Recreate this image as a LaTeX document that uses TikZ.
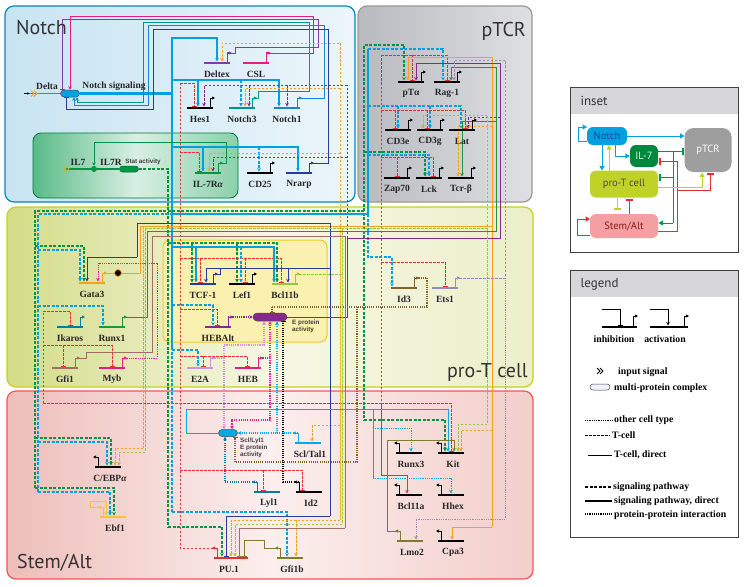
\documentclass[tikz,border=0pt]{standalone}
\usepackage{fontspec}
\setmainfont{Liberation Serif}
\newfontfamily\titlefont{PT Sans}
\newfontfamily\labelsans{Liberation Sans}
\usetikzlibrary{arrows.meta,calc,shapes.misc}
\definecolor{nBlue}{RGB}{0,160,225}
\definecolor{ilGreen}{RGB}{0,150,70}
\definecolor{puRed}{RGB}{230,45,50}
\definecolor{gataOrange}{RGB}{245,160,30}
\definecolor{tcfNavy}{RGB}{40,60,160}
\definecolor{runxGreen}{RGB}{30,150,60}
\definecolor{bclGreen}{RGB}{150,200,60}
\definecolor{etsGrey}{RGB}{150,140,180}
\definecolor{ePurple}{RGB}{135,40,140}
\definecolor{hebMagenta}{RGB}{225,30,130}
\definecolor{eLilac}{RGB}{205,150,210}
\definecolor{sclCyan}{RGB}{0,170,230}
\definecolor{lylTeal}{RGB}{0,125,160}
\definecolor{idOlive}{RGB}{125,125,45}
\definecolor{idBrown}{RGB}{130,100,40}
\definecolor{ebfYellow}{RGB}{245,200,40}
\definecolor{gfiBrown}{RGB}{160,110,100}
\definecolor{deltexPurple}{RGB}{130,60,170}
\definecolor{notchOneBlue}{RGB}{30,130,210}
\definecolor{notchTeal}{RGB}{0,150,140}
\definecolor{proGreen}{RGB}{190,210,40}
\definecolor{notchFill}{RGB}{200,228,242}
\definecolor{ptcrFill}{RGB}{185,186,192}
\definecolor{proFill}{RGB}{212,220,135}
\definecolor{stemFill}{RGB}{238,190,185}
\definecolor{hebFill}{RGB}{250,240,175}
\definecolor{headGrey}{RGB}{215,215,217}
\pgfdeclarelayer{boxes}
\pgfdeclarelayer{wires}
\pgfsetlayers{boxes,wires,main}
\tikzset{
  regionBox/.style={rounded corners=9pt, line width=1.2pt},
  regionTitle/.style={font=\titlefont\fontsize{20}{22}\selectfont, text=black!80, inner sep=0pt},
  geneBar/.style={line width=1.4pt},
  genePromoter/.style={line width=1pt, -{Triangle[length=3pt,width=3pt]}},
  geneLabel/.style={font=\bfseries\fontsize{9.5}{10}\selectfont, text=black!85, inner sep=0pt},
  linkDirect/.style={line width=0.6pt},
  linkTcell/.style={line width=0.6pt, dash pattern=on 2.5pt off 1.5pt},
  linkOther/.style={line width=0.6pt, dash pattern=on 0.8pt off 1pt},
  linkSig/.style={line width=2.2pt, dash pattern=on 3pt off 1.5pt},
  linkSigDirect/.style={line width=2.2pt},
  linkPpi/.style={line width=2pt, dash pattern=on 1.1pt off 1.1pt},
  actTip/.style={-{Stealth[length=3.5pt,width=3.5pt]}},
  inhTip/.style={-{Bar[width=5pt,line width=1pt]}},
  complexNode/.style={rounded rectangle, draw=black!70, line width=0.5pt, inner sep=0pt},
  smallSans/.style={font=\labelsans\bfseries\fontsize{6.3}{7}\selectfont, text=black!75, align=left, inner sep=0pt},
  insetFrame/.style={draw=black!75, line width=1pt},
  insetNode/.style={rounded corners=6pt, inner sep=0pt, font=\titlefont\fontsize{10.5}{11}\selectfont},
  insetLink/.style={line width=1pt},
  insetAct/.style={-{Triangle[length=4.5pt,width=5pt]}},
  insetInh/.style={-{Bar[width=7pt,line width=2.2pt]}},
  legendText/.style={font=\bfseries\fontsize{9.8}{10}\selectfont, anchor=west, inner sep=0pt}
}
% gene with promoter on the right / on the left
\newcommand{\geneR}[5]{%
  \coordinate (#1) at (#2,#3);
  \coordinate (#1-o) at ($(#1)+(10,-10)$);
  \draw[geneBar,#4] ($(#1)+(-13,0)$) -- ($(#1)+(13,0)$);
  \draw[genePromoter,#4] ($(#1)+(10,0)$) -- (#1-o) -- ++(5,0);
  \node[geneLabel] (#1-l) at ($(#1)+(0,11.5)$) {#5};
}
\newcommand{\geneL}[5]{%
  \coordinate (#1) at (#2,#3);
  \coordinate (#1-o) at ($(#1)+(-10,-10)$);
  \draw[geneBar,#4] ($(#1)+(-13,0)$) -- ($(#1)+(13,0)$);
  \draw[genePromoter,#4] ($(#1)+(-10,0)$) -- (#1-o) -- ++(-5,0);
  \node[geneLabel] (#1-l) at ($(#1)+(2,11.5)$) {#5};
}
\newcommand{\inSignal}[3]{%
  \draw[#3,line width=0.9pt] (#1,#2-3) -- (#1+3,#2) -- (#1,#2+3);
  \draw[#3,line width=0.9pt] (#1+3,#2-3) -- (#1+6,#2) -- (#1+3,#2+3);
}

\begin{document}
\begin{tikzpicture}[x=1pt,y=-1pt]
\useasboundingbox (0,0) rectangle (746,586);

% regions
\begin{pgfonlayer}{boxes}
  \draw[regionBox, draw=nBlue!85!black, left color=notchFill, right color=notchFill!35] (5,6) rectangle (355,202);
  \draw[regionBox, draw=black!40, left color=ptcrFill, right color=ptcrFill!45] (358,6) rectangle (532,202);
  \draw[regionBox, draw=proGreen, left color=proFill, right color=proFill!45, middle color=proFill!22] (7,207) rectangle (533,387);
  \draw[regionBox, draw=puRed!80, left color=stemFill, right color=stemFill!75, middle color=stemFill!25] (7,391) rectangle (533,579);
  \draw[rounded corners=8pt, line width=0.8pt, draw=ilGreen!80!black, left color=ilGreen!65, right color=ilGreen!45, middle color=white!85!ilGreen] (33,133) rectangle (238,198);
  \draw[rounded corners=7pt, line width=1pt, draw=ebfYellow, fill=hebFill] (163,240) rectangle (327,342);
  \draw[insetFrame, fill=white] (570,87) rectangle (738,252);
  \fill[headGrey] (570.5,87.5) rectangle (737.5,114);
  \draw[insetFrame, fill=white] (570,270) rectangle (738,537);
  \fill[headGrey] (570.5,270.5) rectangle (737.5,297);
\end{pgfonlayer}
\node[regionTitle, anchor=base west] at (16,35) {Notch};
\node[regionTitle, anchor=base east] at (526,37) {pTCR};
\node[regionTitle, anchor=base east] at (528,377) {pro-T cell};
\node[regionTitle, anchor=base west] at (17,568) {Stem/Alt};

% Notch
\geneR{deltex}{217}{63}{deltexPurple}{Deltex}
\geneR{csl}{256}{63}{hebMagenta}{CSL}
\geneR{hes1}{200}{108}{black}{Hes1}
\geneR{notchiii}{242}{108}{notchTeal}{Notch3}
\geneR{notchi}{287}{108}{notchOneBlue}{Notch1}
\geneR{il7r}{208}{173}{ilGreen}{IL-7R\textit{α}}
\geneR{cd25}{260}{173}{black}{CD25}
\geneR{nrarp}{299}{173}{tcfNavy}{Nrarp}
% pTCR
\geneR{pta}{411}{82}{black}{pTα}
\geneR{rag1}{447}{82}{black}{Rag-1}
\geneR{cd3e}{398}{130}{black}{CD3e}
\geneR{cd3g}{430}{130}{black}{CD3g}
\geneR{lat}{462}{130}{black}{Lat}
\geneR{zap70}{397}{178}{black}{Zap70}
\geneR{lck}{429}{178}{black}{Lck}
\geneR{tcrb}{461}{178}{black}{Tcr-β}
% pro-T cell
\geneR{gata3}{92}{283}{gataOrange}{Gata3}
\geneR{ikaros}{70}{327}{lylTeal}{Ikaros}
\geneR{runx1}{112}{327}{runxGreen}{Runx1}
\geneR{gfi1}{65}{368}{gfiBrown}{Gfi1}
\geneR{myb}{112}{368}{hebMagenta}{Myb}
\geneR{tcf1}{203}{284}{tcfNavy}{TCF-1}
\geneR{lef1}{242}{284}{black}{Lef1}
\geneR{bcl11b}{285}{284}{bclGreen}{Bcl11b}
\geneR{hebalt}{218}{327}{ePurple}{HEBAlt}
\geneR{e2a}{200}{368}{eLilac}{E2A}
\geneR{heb}{248}{368}{hebMagenta}{HEB}
\geneR{id3}{404}{288}{idBrown}{Id3}
\geneR{ets1}{445}{288}{etsGrey}{Ets1}
% Stem/Alt
\geneL{cebpa}{108}{467}{black}{C/EBP\textit{α}}
\geneL{ebf1}{113}{517}{ebfYellow}{Ebf1}
\geneL{sclt}{308}{443}{sclCyan}{Scl/Tal1}
\geneL{lyl1}{267}{492}{lylTeal}{Lyl1}
\geneL{id2}{309}{492}{black}{Id2}
\geneL{pu1}{227}{558}{puRed}{PU.1}
\draw[geneBar,puRed] ($(pu1)+(13,0)$) -- ($(pu1)+(21,0)$);
\geneL{gfi1b}{290}{558}{idOlive}{Gfi1b}
\geneL{runx3}{409}{453}{black}{Runx3}
\geneL{kit}{451}{453}{black}{Kit}
\geneL{bcl11a}{409}{495}{black}{Bcl11a}
\geneL{hhex}{451}{495}{black}{Hhex}
\geneL{lmo2}{410}{541}{idOlive}{Lmo2}
\geneL{cpa3}{451}{541}{black}{Cpa3}

% complexes and inputs
\node[complexNode, fill=nBlue, minimum width=19pt, minimum height=7pt] (nsig) at (70,93.5) {};
\node[geneLabel] (delta-l) at (47,86) {Delta};
\node[geneLabel] (nsig-l) at (114,86) {Notch signaling};
\draw[line width=0.9pt, -{Stealth[length=3pt]}] (24,93.5) -- (30,93.5);
\inSignal{31}{93.5}{gataOrange}
\node[circle, fill=ilGreen, minimum size=6pt, inner sep=0pt] (il7dot) at (94,169) {};
\node[complexNode, fill=ilGreen, draw=ilGreen!70!black, minimum width=19pt, minimum height=6pt] (stat) at (129,169) {};
\node[geneLabel] (il7-l) at (78,162) {IL7};
\node[geneLabel] (il7rr-l) at (111,162) {IL7R};
\node[smallSans] (stat-l) at (143,162) {Stat activity};
\inSignal{63}{169}{gataOrange}
\node[circle, draw=gataOrange, fill=black, line width=0.8pt, minimum size=7pt, inner sep=0pt] (gprot) at (118,273) {};
\node[complexNode, fill=ePurple, minimum width=34pt, minimum height=8pt] (eprot) at (270,317) {};
\node[smallSans, anchor=west] (eprot-l) at (292,326) {E protein\\activity};
\node[complexNode, fill=sclCyan, minimum width=19pt, minimum height=7pt] (scllyl) at (228,433) {};
\node[smallSans, anchor=north west] (scllyl-l) at (240,438) {Scl/Lyl1\\E protein\\activity};

\begin{pgfonlayer}{wires}
% Notch signal bus
\draw[linkDirect,nBlue,line width=1.6pt] (30,93.5) -- (nsig.west);
\draw[linkSigDirect,nBlue] (nsig.east) -- (172,93.5);
\draw[linkSigDirect,nBlue] (172,37) -- (172,347);
\draw[linkSigDirect,nBlue,actTip] (171,38) -| ($(deltex)+(0,-1.5)$);
\draw[linkSigDirect,nBlue,actTip] (172,80) -| ($(notchi)+(-8,-1.5)$);
\draw[linkSigDirect,nBlue,actTip] (198,80) -- ($(hes1)+(-2,-1.5)$);
\draw[linkSig,nBlue,actTip] (241,80) -- ($(notchiii)+(-1,-1.5)$);
\draw[linkSigDirect,nBlue,actTip] (172,147) -| ($(nrarp)+(-1,-1.5)$);
\draw[linkSigDirect,nBlue,actTip] (203,147) -- ($(il7r)+(-5,-1.5)$);
\draw[linkSig,nBlue,actTip] (259,147) -- ($(cd25)+(-1,-1.5)$);
% feedback on Notch signaling
\draw[linkDirect,deltexPurple,inhTip] (deltex-o) -- ++(8,0) |- (318,47) |- (62,19) -- ($(nsig.north)+(-8,0)$);
\draw[linkDirect,hebMagenta,actTip] (csl-o) -- (313,53) |- (70,16) -- (nsig.north);
\draw[linkDirect,notchOneBlue,actTip] (notchi-o) -- (324,98) |- (148,25) |- (74,105) -- ($(nsig.south)+(4,0)$);
\draw[linkDirect,tcfNavy,inhTip] (nrarp-o) -- (328,163) |- (153,29) |- (66,109) -- ($(nsig.south)+(-4,0)$);
\draw[linkDirect,notchTeal,actTip] (notchiii-o) -- ++(6,0) |- (309,91) |- (143,22) |- (77,102) -- ($(nsig.south)+(7,0)$);
% Gata3 / E protein dashed in Notch
\draw[linkTcell,gataOrange,actTip] (340,226) -- (340,43) -| ($(deltex)+(5,-1.5)$);
\draw[linkTcell,gataOrange,actTip] (340,88) -| ($(notchiii)+(3,-1.5)$);
\draw[linkTcell,gataOrange,actTip] (340,153) -| ($(il7r)+(1,-1.5)$);
\draw[linkTcell,ePurple] (347,238) -- (347,85);
\draw[linkTcell,ePurple,actTip] (347,85) -| ($(hes1)+(4,-1.5)$);
\draw[linkTcell,ePurple,actTip] (249,85) -- ($(notchiii)+(7,-1.5)$);
\draw[linkTcell,ePurple,actTip] (287,85) -- ($(notchi)+(0,-1.5)$);
\draw[linkTcell,ePurple,actTip] (347,157) -| ($(il7r)+(5,-1.5)$);
% PU.1 bus
\draw[linkTcell,puRed] (pu1-o) -- (180,548) -- (180,83);
\draw[linkTcell,puRed,inhTip] (180,83) -| ($(hes1)+(-6,-1.5)$);
\draw[linkTcell,puRed,inhTip] (180,152) -| ($(il7r)+(-9,-1.5)$);
\draw[linkTcell,puRed,inhTip] (180,258) -| ($(bcl11b)+(-4,-1.5)$);
\draw[linkTcell,puRed,inhTip] (200,258) -- ($(tcf1)+(-3,-1.5)$);
\draw[linkTcell,puRed,inhTip] (245,258) -- ($(lef1)+(3,-1.5)$);
\draw[linkTcell,puRed,inhTip] (180,309) -| ($(hebalt)+(-1,-1.5)$);
\draw[linkTcell,puRed,inhTip] (180,356) -| ($(heb)+(-1,-1.5)$);
\draw[linkTcell,puRed,inhTip] (203,356) -- ($(e2a)+(3,-1.5)$);
\draw[linkTcell,puRed,inhTip] (180,470) -| ($(id2)+(-7,-1.5)$);
\draw[linkTcell,puRed,inhTip] (263,470) -- ($(lyl1)+(-4,-1.5)$);
\draw[linkTcell,puRed] (43,403) -- (180,403) -| (381,55);
\draw[linkTcell,puRed,inhTip] (43,403) -- (43,311) -| ($(ikaros)+(0,-1.5)$);
\draw[linkTcell,puRed,inhTip] (43,345) -| ($(myb)+(0,-1.5)$);
\draw[linkTcell,puRed,inhTip] (63,345) -- ($(gfi1)+(-2,-1.5)$);
\draw[linkTcell,puRed,inhTip] (381,55) -| ($(rag1)+(0,-1.5)$);
\draw[linkTcell,puRed,inhTip] (412,55) -- ($(pta)+(1,-1.5)$);
\draw[linkTcell,puRed,inhTip] (381,110) -| ($(lat)+(3,-1.5)$);
\draw[linkTcell,puRed,inhTip] (395,110) -- ($(cd3e)+(-3,-1.5)$);
\draw[linkTcell,puRed,inhTip] (427,110) -- ($(cd3g)+(-3,-1.5)$);
\draw[linkTcell,puRed,inhTip] (381,157) -| ($(lck)+(4,-1.5)$);
\draw[linkTcell,puRed,inhTip] (397,157) -- ($(zap70)+(0,-1.5)$);
\draw[linkTcell,puRed,inhTip] (381,262) -| ($(ets1)+(0,-1.5)$);
\draw[linkTcell,puRed,inhTip] (381,403) -| ($(kit)+(0,-1.5)$);
\draw[linkDirect,puRed,actTip] (381,403) |- (407,475) -- ($(bcl11a)+(-2,-1.5)$);
% IL7 signalling
\draw[linkDirect,ilGreen,line width=1.4pt] (66,169) -- (il7dot.west);
\draw[linkDirect,ilGreen,line width=1.4pt] (il7dot.east) -- (stat.west);
\draw[linkDirect,ilGreen,actTip] (il7r-o) -- (226,163) |- (94,142) -- (il7dot.north);
\draw[linkSig,ilGreen] (stat.east) -- (168,169) -- (168,527);
\draw[linkSig,ilGreen,actTip] (168,527) -| ($(pu1)+(-5,-1.5)$);
\draw[linkSig,ilGreen] (35,488) -- (35,211) -- (364,211) -- (364,420);
\draw[linkSig,ilGreen,actTip] (364,420) -| ($(kit)+(-6,-1.5)$);
\draw[linkSig,ilGreen,actTip] (364,211) -- (364,45) -| ($(pta)+(-7,-1.5)$);
\draw[linkSig,ilGreen,actTip] (364,152) -| ($(lck)+(-4,-1.5)$);
\draw[linkSig,ilGreen,actTip] (35,488) -| ($(ebf1)+(1,-1.5)$);
\draw[linkSig,ilGreen,actTip] (35,438) -| ($(cebpa)+(3,-1.5)$);
\draw[linkSig,ilGreen,actTip] (35,246) -| ($(gata3)+(-8,-1.5)$);
\draw[linkSig,ilGreen,actTip] (168,243) -| ($(bcl11b)+(-8,-1.5)$);
\draw[linkSig,ilGreen,actTip] (192,243) -- ($(tcf1)+(-11,-1.5)$);
\draw[linkSig,ilGreen,actTip] (237,243) -- ($(lef1)+(-5,-1.5)$);
% Notch signal, outer loop
\draw[linkSig,nBlue] (38,492) -- (38,214) -- (172,214);
\draw[linkSigDirect,nBlue] (172,214) -- (368,214) -- (368,49);
\draw[linkSig,nBlue,actTip] (368,49) -| ($(rag1)+(-4,-1.5)$);
\draw[linkSig,nBlue,actTip] (368,106) -| ($(lat)+(-1,-1.5)$);
\draw[linkSig,nBlue,actTip] (398,106) -- ($(cd3e)+(0,-1.5)$);
\draw[linkSig,nBlue,actTip] (430,106) -- ($(cd3g)+(0,-1.5)$);
\draw[linkSig,nBlue,actTip] (368,155) -| ($(lck)+(0,-1.5)$);
\draw[linkSig,nBlue,actTip] (368,214) -- (368,257) -| ($(id3)+(-12,-1.5)$);
\draw[linkSig,nBlue,actTip] (38,442) -| ($(cebpa)+(-1,-1.5)$);
\draw[linkSig,nBlue,actTip] (38,492) -| ($(ebf1)+(-3,-1.5)$);
\draw[linkSig,nBlue,actTip] (38,250) -| ($(gata3)+(-12,-1.5)$);
\draw[linkSig,nBlue,actTip] (38,306) -| ($(runx1)+(-9,-1.5)$);
\draw[linkSig,nBlue] (172,347) -- (172,512);
\draw[linkSig,nBlue,actTip] (172,512) -| ($(gfi1b)+(-3,-1.5)$);
\draw[linkSig,nBlue,actTip] (172,305) -| ($(hebalt)+(-5,-1.5)$);
\draw[linkSig,nBlue,actTip] (172,350) -| ($(e2a)+(-2,-1.5)$);
\draw[linkSigDirect,nBlue,actTip] (172,247) -| ($(bcl11b)+(-11,-1.5)$);
\draw[linkSigDirect,nBlue,actTip] (196,247) -- ($(tcf1)+(-7,-1.5)$);
\draw[linkSig,nBlue,actTip] (241,247) -- ($(lef1)+(-1,-1.5)$);
% Gata3
\draw[linkDirect,gataOrange] (gata3-o) -- (gprot);
\draw[linkDirect,gataOrange] (gprot) -- (140,273) -- (140,226) -- (492,226) -- (492,57);
\draw[linkDirect,gataOrange,actTip] (492,57) -| ($(pta)+(-3,-1.5)$);
\draw[linkDirect,gataOrange] (492,226) -- (492,527);
\draw[linkDirect,gataOrange,actTip] (492,527) -| ($(cpa3)+(1,-1.5)$);
\draw[linkTcell,gataOrange,actTip] (492,430) -| ($(kit)+(10,-1.5)$);
\draw[linkTcell,gataOrange,actTip] (492,126) -| ($(tcrb)+(-3,-1.5)$);
\draw[linkTcell,gataOrange] (143,226) -- (143,448);
\draw[linkTcell,gataOrange,actTip] (143,448) -| ($(cebpa)+(7,-1.5)$);
\draw[linkTcell,gataOrange] (340,226) -- (340,520);
\draw[linkTcell,gataOrange,actTip] (340,520) -| ($(pu1)+(4,-1.5)$);
\draw[linkTcell,gataOrange,actTip] (296,520) -- ($(gfi1b)+(6,-1.5)$);
\draw[linkTcell,gataOrange,actTip] (340,425) -| ($(sclt)+(4,-1.5)$);
% TCF-1
\draw[linkDirect,tcfNavy] (tcf1-o) -- ++(7,0) |- (330,268);
\draw[linkDirect,tcfNavy,actTip] (220,268) -| ($(tcf1)+(3,-1.5)$);
\draw[linkDirect,tcfNavy,actTip] (288,268) -- ($(bcl11b)+(3,-1.5)$);
\draw[linkDirect,tcfNavy] (330,268) -- (330,223) -- (137,223) -- (137,257);
\draw[linkDirect,tcfNavy,actTip] (137,257) -| ($(gata3)+(-5,-1.5)$);
\draw[linkDirect,tcfNavy] (330,268) -- (330,516);
\draw[linkDirect,tcfNavy,inhTip] (330,516) -| ($(pu1)+(-1,-1.5)$);
% Runx1
\draw[linkDirect,runxGreen] (runx1-o) -- (147,317) -- (147,231) -- (496,231) -- (496,67);
\draw[linkDirect,runxGreen,actTip] (496,67) -| ($(rag1)+(4,-1.5)$);
\draw[linkDirect,runxGreen,actTip] (496,121) -| ($(tcrb)+(1,-1.5)$);
% E protein activity
\draw[linkDirect,ePurple] (eprot.east) -| (347,238) -- (500,238) -- (500,63);
\draw[linkDirect,ePurple,actTip] (500,63) -| ($(pta)+(5,-1.5)$);
\draw[linkTcell,ePurple,actTip] (500,117) -| ($(lat)+(6,-1.5)$);
% Bcl11b
\draw[linkTcell,bclGreen] (bcl11b-o) -- (342,274);
\draw[linkTcell,bclGreen] (145,228) -- (487,228) -- (487,115);
\draw[linkTcell,bclGreen,actTip] (487,115) -| ($(cd3g)+(-7,-1.5)$);
\draw[linkTcell,bclGreen] (342,228) -- (342,524);
\draw[linkTcell,bclGreen,actTip] (342,524) -| ($(pu1)+(8,-1.5)$);
\draw[linkTcell,bclGreen] (145,228) -- (145,452);
\draw[linkTcell,bclGreen,actTip] (145,452) -| ($(cebpa)+(11,-1.5)$);
\draw[linkTcell,bclGreen,actTip] (487,228) -- (487,424) -| ($(kit)+(7,-1.5)$);
% Ets1
\draw[linkTcell,etsGrey] (ets1-o) -- (505,278) -- (505,60);
\draw[linkTcell,etsGrey,actTip] (505,60) -| ($(rag1)+(7,-1.5)$);
\draw[linkOther,etsGrey,actTip] (505,278) -- (505,519) -| ($(lmo2)+(6,-1.5)$);
% Gfi1, Myb
\draw[linkDirect,gfiBrown] (gfi1-o) -- (86,358) |- (152,352) |- (345,236) -- (345,528);
\draw[linkDirect,gfiBrown,inhTip] (345,528) -| ($(pu1)+(12,-1.5)$);
\draw[linkOther,hebMagenta] (myb-o) -- (157,358) -- (157,263);
\draw[linkOther,hebMagenta,actTip] (157,263) -| ($(gata3)+(6,-1.5)$);
% Id3 and protein-protein interactions
\draw[linkPpi,idBrown] (id3-o) -- (427,278) -- (427,307) -- (272,307);
\draw[linkPpi,idBrown,inhTip] (272,307) -- ($(eprot.north)+(2,0)$);
\draw[linkPpi,idBrown,inhTip] (357,307) -- (357,462) -| ($(scllyl.south)+(7,0)$);
\draw[linkPpi,ePurple,actTip] (hebalt-o) -- (eprot.west);
\draw[linkPpi,eLilac] (e2a-o) -- (224,358);
\draw[linkPpi,eLilac,actTip] (224,358) |- (264,345) -- ($(eprot.south)+(-6,0)$);
\draw[linkPpi,eLilac,actTip] (224,358) -- ($(scllyl.north)+(-4,0)$);
\draw[linkPpi,hebMagenta,actTip] (heb-o) -- (270,358) -- (eprot.south);
\draw[linkPpi,hebMagenta,actTip] (270,358) -- (270,420) -| ($(scllyl.north)+(4,0)$);
\draw[linkPpi,sclCyan,actTip] (sclt-o) -- (scllyl.east);
\draw[linkPpi,sclCyan,actTip] (277,433) -- ($(eprot.south)+(7,0)$);
\draw[linkPpi,black,inhTip] (id2-o) -- (283,482) -- ($(eprot.south)+(13,0)$);
\draw[linkPpi,lylTeal,actTip] (lyl1-o) -| ($(scllyl.south)+(-3,0)$);
% Scl/Lyl1 complex targets
\draw[linkDirect,sclCyan] (scllyl.west) -- (186,433) |- (373,409) -- (373,478);
\draw[linkDirect,sclCyan,actTip] (373,409) -| ($(kit)+(-3,-1.5)$);
\draw[linkOther,sclCyan,actTip] (373,428) -| ($(runx3)+(2,-1.5)$);
\draw[linkOther,sclCyan,actTip] (373,478) -| ($(hhex)+(0,-1.5)$);
% Stem/Alt loops
\draw[linkDirect,ebfYellow,actTip] (ebf1-o) -- (90,507) |- (106,501) -- ($(ebf1)+(-7,-1.5)$);
\draw[linkDirect,idOlive,actTip] (lmo2-o) -- (387,531) -- (387,440) -| ($(kit)+(3,-1.5)$);
\draw[linkDirect,idOlive,inhTip] (gfi1b-o) -- (264,548) |- (244,540) -- ($(pu1)+(17,-1.5)$);
\end{pgfonlayer}

% inset
\node[anchor=west, font=\titlefont\fontsize{13}{14}\selectfont, text=black!80] (inset-l) at (577,101) {inset};
\node[insetNode, fill=nBlue, text=tcfNavy, minimum width=40pt, minimum height=18pt] (inNotch) at (607,136) {Notch};
\node[insetNode, fill=ilGreen!90!black, text=green!20, minimum width=28pt, minimum height=22pt] (inIL) at (644,156) {IL-7};
\node[insetNode, fill=black!38, text=white, minimum width=47pt, minimum height=44pt, rounded corners=9pt] (inPTCR) at (708,150) {pTCR};
\node[insetNode, fill=proGreen, text=black!70, minimum width=68pt, minimum height=27pt] (inProT) at (624,184) {pro-T cell};
\node[insetNode, fill=puRed!45!white, text=puRed!60!black, minimum width=68pt, minimum height=24pt] (inStem) at (624,226) {Stem/Alt};
\begin{pgfonlayer}{wires}
\draw[insetLink,nBlue,insetAct] (587,141) -- (578,141) -- (578,127) -- (587,127);
\draw[insetLink,nBlue,insetAct] (inNotch.east) -- (684.5,136);
\draw[insetLink,nBlue,insetAct] (615,145) |- (inIL.west);
\draw[insetLink,nBlue,insetAct] (602,145) -- (602,170.5);
\draw[insetLink,proGreen,insetAct] (609,170.5) -- (609,145);
\draw[insetLink,ilGreen,insetInh] (658,151) -- (684,151);
\draw[insetLink,ilGreen] (673,151) -- (673,223);
\draw[insetLink,ilGreen,insetInh] (673,177) -- (658.5,177);
\draw[insetLink,ilGreen,insetAct] (673,223) -- (658.5,223);
\draw[insetLink,puRed,insetInh] (658,231) -- (677,231) -- (677,161) -- (658.5,161);
\draw[insetLink,puRed,insetInh] (677,190) -- (710,190) -- (710,172.5);
\draw[insetLink,proGreen,insetAct] (658,187) -- (702,187) -- (702,172.5);
\draw[insetLink,proGreen,insetInh] (617,197.5) -- (617,210);
\draw[insetLink,puRed,insetInh] (629,214) -- (629,199);
\draw[insetLink,puRed,insetAct] (590,235) -- (577,235) -- (577,219) -- (590,219);
\end{pgfonlayer}

% legend
\node[anchor=west, font=\titlefont\fontsize{13}{14}\selectfont, text=black!80] (legend-l) at (577,284) {legend};
\draw[linkDirect,black,line width=0.8pt,inhTip] (602,309) -- (620,309) -- (620,325.5);
\draw[geneBar,black] (602,327) -- (637,327);
\draw[genePromoter,black] (633,327) -- (633,316) -- (638,316);
\draw[linkDirect,black,line width=0.8pt,actTip] (650,309) -- (668,309) -- (668,325.5);
\draw[geneBar,black] (650,327) -- (688,327);
\draw[genePromoter,black] (684,327) -- (684,316) -- (689,316);
\node[legendText, anchor=center] (inh-l) at (614,339) {inhibition};
\node[legendText, anchor=center] (act-l) at (665,339) {activation};
\inSignal{597}{371}{black}
\node[legendText] (insig-l) at (618,372) {input signal};
\node[complexNode, fill=blue!6, minimum width=20pt, minimum height=6pt] (cplx-key) at (600,387) {};
\node[legendText] (cplx-l) at (614,388) {multi-protein complex};
\draw[linkOther,black] (585,420) -- (613,420);
\node[legendText] (oth-l) at (614,420) {other cell type};
\draw[linkTcell,black] (585,435) -- (610,435);
\node[legendText] (tc-l) at (612,435) {T-cell};
\draw[linkDirect,black] (588,455) -- (612,455);
\node[legendText] (dir-l) at (614,455) {T-cell, direct};
\draw[linkSig,black] (585,487) -- (612,487);
\node[legendText] (sig-l) at (613,487) {signaling pathway};
\draw[linkSigDirect,black] (585,501) -- (612,501);
\node[legendText] (sigd-l) at (614,501) {signaling pathway, direct};
\draw[linkPpi,black] (585,514) -- (612,514);
\node[legendText] (ppi-l) at (614,515) {protein-protein interaction};
\end{tikzpicture}
\end{document}
